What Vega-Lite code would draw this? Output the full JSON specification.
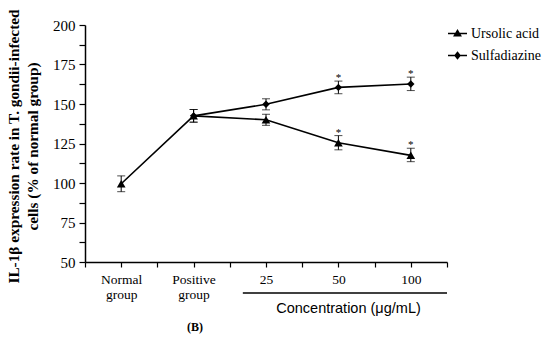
{
  "$schema": "https://vega.github.io/schema/vega-lite/v6.json",
  "autosize": {"type": "none"},
  "width": 362,
  "height": 237,
  "padding": {"left": 85, "top": 25, "right": 103, "bottom": 77},
  "background": "white",
  "config": {
    "view": {"stroke": null},
    "font": "Liberation Serif",
    "legend": {"labelFont": "Liberation Serif", "labelFontSize": 14, "labelColor": "black"}
  },
  "data": {
    "values": [
      {"series": "Ursolic acid", "pos": 1, "val": 99.5, "lo": 94.5, "hi": 104.5, "star": false},
      {"series": "Ursolic acid", "pos": 2, "val": 142.5, "lo": 138.5, "hi": 146.5, "star": false},
      {"series": "Ursolic acid", "pos": 3, "val": 140, "lo": 136.5, "hi": 143.5, "star": false},
      {"series": "Ursolic acid", "pos": 4, "val": 125.5, "lo": 121, "hi": 130, "star": true},
      {"series": "Ursolic acid", "pos": 5, "val": 117.5, "lo": 113.5, "hi": 122, "star": true},
      {"series": "Sulfadiazine", "pos": 2, "val": 142.5, "lo": 138.5, "hi": 146.5, "star": false},
      {"series": "Sulfadiazine", "pos": 3, "val": 149.8, "lo": 146.3, "hi": 153.3, "star": false},
      {"series": "Sulfadiazine", "pos": 4, "val": 160.5, "lo": 156.5, "hi": 164.5, "star": true},
      {"series": "Sulfadiazine", "pos": 5, "val": 162.7, "lo": 158.5, "hi": 167, "star": true}
    ]
  },
  "encoding": {
    "x": {
      "field": "pos", "type": "quantitative",
      "scale": {"domain": [0.5, 5.5], "nice": false, "zero": false},
      "axis": {
        "values": [0.5, 1, 1.5, 2, 2.5, 3, 3.5, 4, 4.5, 5, 5.5],
        "labelExpr": "datum.value == 1 ? ['Normal', 'group'] : datum.value == 2 ? ['Positive', 'group'] : datum.value == 3 ? '25' : datum.value == 4 ? '50' : datum.value == 5 ? '100' : ''",
        "labelOverlap": false, "labelFlush": false,
        "labelFont": "Liberation Serif", "labelFontSize": 13.5, "labelColor": "black",
        "labelLineHeight": 15, "labelPadding": 5,
        "grid": false, "domainColor": "black", "domainWidth": 1.5,
        "tickColor": "black", "tickSize": 5, "tickWidth": 1.2,
        "title": "Concentration (μg/mL)",
        "titleFont": "Liberation Sans", "titleFontSize": 14.5, "titleFontWeight": "normal", "titleColor": "black",
        "titleX": 263, "titleY": 46, "titleAlign": "center", "titleBaseline": "middle"
      }
    },
    "y": {
      "field": "val", "type": "quantitative",
      "scale": {"domain": [50, 200], "nice": false, "zero": false},
      "axis": {
        "values": [50, 62.5, 75, 87.5, 100, 112.5, 125, 137.5, 150, 162.5, 175, 187.5, 200],
        "labelExpr": "datum.value % 25 == 0 ? datum.label : ''",
        "labelOverlap": false,
        "labelFont": "Liberation Serif", "labelFontSize": 15, "labelColor": "black", "labelPadding": 4,
        "grid": false, "domainColor": "black", "domainWidth": 1.5,
        "tickColor": "black", "tickSize": 6, "tickWidth": 1.2,
        "title": ["IL-1β expression rate in T. gondii-infected", "cells (% of normal group)"],
        "titleFont": "Liberation Serif", "titleFontSize": 15.3, "titleFontWeight": "bold", "titleColor": "black",
        "titleLineHeight": 19,
        "titleX": -79, "titleY": 121, "titleAlign": "center", "titleBaseline": "top", "titleAngle": -90
      }
    }
  },
  "layer": [
    {
      "mark": {"type": "line", "color": "black", "strokeWidth": 1.6},
      "encoding": {"detail": {"field": "series"}}
    },
    {
      "mark": {"type": "rule", "color": "black", "strokeWidth": 1},
      "encoding": {"y": {"field": "lo", "type": "quantitative"}, "y2": {"field": "hi"}}
    },
    {
      "mark": {"type": "tick", "orient": "horizontal", "color": "black", "size": 8, "thickness": 1},
      "encoding": {"y": {"field": "lo", "type": "quantitative"}}
    },
    {
      "mark": {"type": "tick", "orient": "horizontal", "color": "black", "size": 8, "thickness": 1},
      "encoding": {"y": {"field": "hi", "type": "quantitative"}}
    },
    {
      "transform": [{"filter": "datum.series == 'Sulfadiazine'"}],
      "mark": {"type": "point", "shape": "diamond", "filled": true, "color": "black", "size": 55, "opacity": 1}
    },
    {
      "transform": [{"filter": "datum.series == 'Ursolic acid'"}],
      "mark": {"type": "point", "shape": "triangle-up", "filled": true, "color": "black", "size": 75, "opacity": 1}
    },
    {
      "transform": [{"filter": "datum.star"}],
      "mark": {"type": "text", "text": "*", "font": "Liberation Serif", "fontSize": 11, "color": "black", "baseline": "alphabetic", "dy": 0},
      "encoding": {"y": {"field": "hi", "type": "quantitative"}}
    },
    {
      "transform": [{"filter": "datum.pos > 100"}],
      "mark": {"type": "point", "filled": true, "color": "black", "size": 361},
      "encoding": {
        "shape": {
          "field": "series", "type": "nominal",
          "scale": {
            "domain": ["Ursolic acid", "Sulfadiazine"],
            "range": ["M-1,-0.08H1V0.08H-1ZM0,-0.48L0.47,0.32H-0.47Z", "M-1,-0.08H1V0.08H-1ZM0,-0.44L0.36,0L0,0.44L-0.36,0Z"]
          },
          "legend": {
            "title": null, "orient": "none", "legendX": 362, "legendY": -2,
            "symbolSize": 361, "symbolFillColor": "black", "symbolOpacity": 1,
            "labelFont": "Liberation Serif", "labelFontSize": 14, "labelColor": "black",
            "labelOffset": 3, "rowPadding": 4
          }
        }
      }
    },
    {
      "transform": [{"filter": "datum.pos == 1"}],
      "mark": {"type": "rule", "color": "black", "strokeWidth": 1.5},
      "encoding": {"x": {"datum": 2.68}, "x2": {"datum": 5.5}, "y": {"datum": 30.4}}
    },
    {
      "transform": [{"filter": "datum.pos == 1"}],
      "mark": {"type": "text", "text": "(B)", "font": "Liberation Serif", "fontSize": 12, "fontWeight": "bold", "color": "black", "baseline": "middle"},
      "encoding": {"x": {"datum": 2.02}, "y": {"datum": 8.9}}
    }
  ]
}
